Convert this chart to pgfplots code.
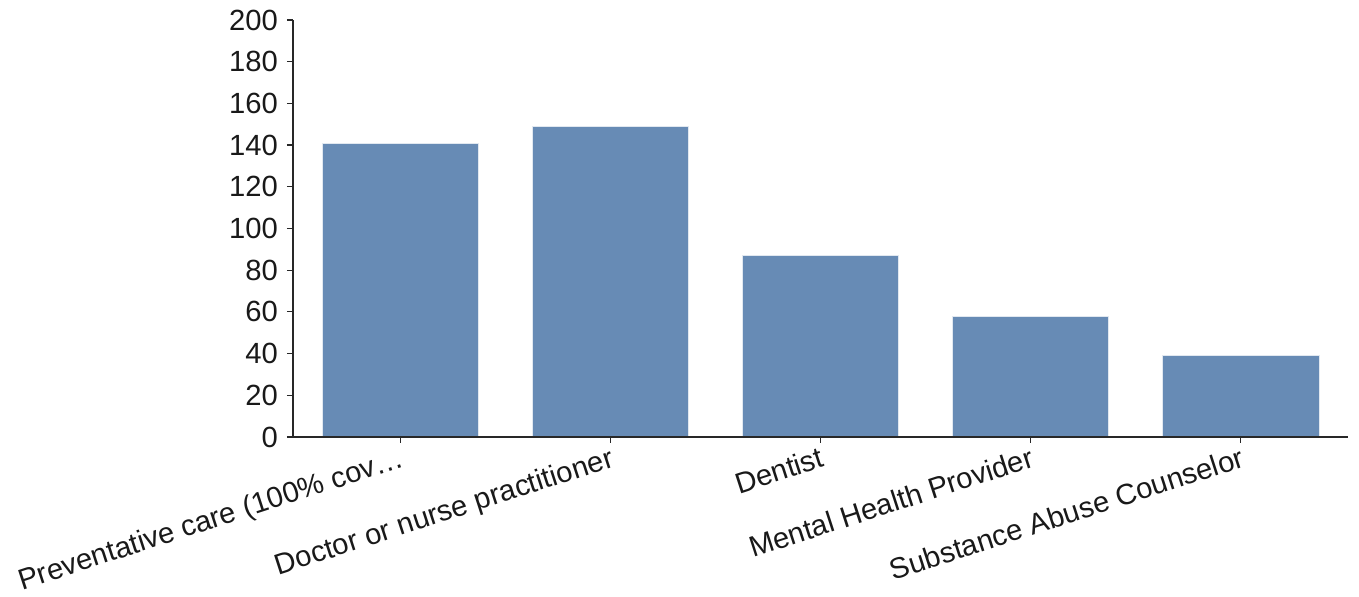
\documentclass[border=0pt]{standalone}
\usepackage{pgfplots}
\pgfplotsset{compat=1.18}
\usepackage{fontspec}
\setmainfont{Liberation Sans}
\definecolor{barblue}{RGB}{103,139,181}
\definecolor{axisgray}{RGB}{40,40,40}
\definecolor{txt}{RGB}{25,25,25}
\begin{document}
\begin{tikzpicture}[x=1pt,y=1pt]
\begin{axis}[
  width=527.5pt, height=208.5pt,
  scale only axis,
  axis on top,
  ybar, bar width=0.743,
  xmin=-0.51, xmax=4.51,
  ymin=0, ymax=200,
  ytick={0,20,...,200},
  xtick=data,
  xticklabels={{Preventative care (100\% cov\ldots},{Doctor or nurse practitioner},{Dentist},{Mental Health Provider},{Substance Abuse Counselor}},
  x tick label style={rotate=18, anchor=north east, font=\fontsize{14.6}{16}\selectfont, text=txt, inner sep=2pt, xshift=1pt, yshift=1pt},
  y tick label style={font=\fontsize{14.6}{16}\selectfont, text=txt, xshift=-1pt},
  /pgf/number format/assume math mode=true,
  axis lines*=left,
  axis line style={axisgray, line width=1.4pt, -},
  tick style={axisgray, line width=0.6pt},
  major tick length=3pt,
  tick pos=left,
  tick align=outside,
  enlargelimits=false,
  clip=false,
]
\addplot[fill=barblue, draw=white!80!barblue, line width=0.4pt] coordinates {(0,141) (1,149) (2,87) (3,58) (4,39)};
\end{axis}
\pgfresetboundingbox
\path (current axis.south west) ++(-146.5pt,-80pt) rectangle ([shift={(5.5pt,10pt)}]current axis.north east);
\end{tikzpicture}
\end{document}
